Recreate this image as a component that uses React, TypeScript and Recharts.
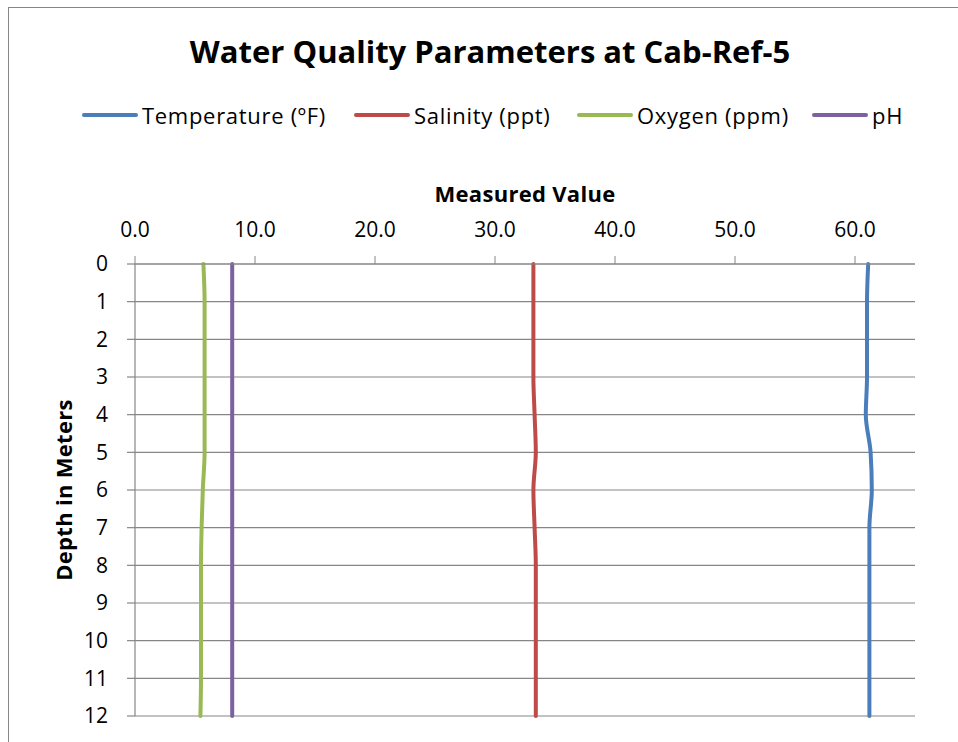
import { LineChart, Line, XAxis, YAxis, CartesianGrid } from 'recharts';

const depths = [0, 1, 2, 3, 4, 5, 6, 7, 8, 9, 10, 11, 12];
const temperature = [61.1, 61.0, 61.0, 61.0, 60.9, 61.3, 61.4, 61.2, 61.2, 61.2, 61.2, 61.2, 61.2];
const salinity = [33.2, 33.2, 33.2, 33.2, 33.3, 33.4, 33.2, 33.3, 33.4, 33.4, 33.4, 33.4, 33.4];
const oxygen = [5.7, 5.8, 5.8, 5.8, 5.8, 5.8, 5.65, 5.55, 5.5, 5.5, 5.5, 5.5, 5.45];
const ph = [8.1, 8.1, 8.1, 8.1, 8.1, 8.1, 8.1, 8.1, 8.1, 8.1, 8.1, 8.1, 8.1];
const xTicks = [0, 10, 20, 30, 40, 50, 60];

const series = [
  { key: 'temp', name: 'Temperature (ºF)', color: '#4A7EBB', left: 82 },
  { key: 'sal', name: 'Salinity (ppt)', color: '#BE4B48', left: 354 },
  { key: 'oxy', name: 'Oxygen (ppm)', color: '#98B954', left: 577 },
  { key: 'ph', name: 'pH', color: '#7D60A0', left: 812 },
];

const data = depths.map((d, i) => ({
  depth: d,
  temp: temperature[i],
  sal: salinity[i],
  oxy: oxygen[i],
  ph: ph[i],
}));

const font = '"Open Sans", Lato, sans-serif';
const grey = '#868686';

export default function App() {
  return (
    <div style={{ position: 'absolute', left: 0, top: 0, width: 958, height: 742, overflow: 'hidden', background: '#fff', fontFamily: font }}>
      <div style={{ position: 'absolute', left: 8, top: 7, width: 1000, height: 800, borderLeft: '1.5px solid ' + grey, borderTop: '1.5px solid ' + grey }} />

      <div style={{ position: 'absolute', left: 0, width: 980, top: 31, textAlign: 'center', fontSize: 31, fontWeight: 'bold', lineHeight: '40px' }}>
        Water Quality Parameters at Cab-Ref-5
      </div>

      {series.map((s) => (
        <div key={s.key} style={{ position: 'absolute', left: s.left, top: 100, display: 'flex', alignItems: 'center', fontSize: 22, lineHeight: '30px', letterSpacing: 0.7, whiteSpace: 'nowrap' }}>
          <div style={{ width: 56, height: 4, borderRadius: 2, background: s.color, marginRight: 4 }} />
          <span>{s.name}</span>
        </div>
      ))}

      <div style={{ position: 'absolute', left: 135, width: 780, top: 178, textAlign: 'center', fontSize: 22, fontWeight: 'bold', lineHeight: '30px', letterSpacing: 0.3 }}>
        Measured Value
      </div>

      <div style={{ position: 'absolute', left: 63, top: 490, transform: 'translate(-50%, -50%) rotate(-90deg)', whiteSpace: 'nowrap', fontSize: 22, fontWeight: 'bold', lineHeight: '30px', letterSpacing: 0.3 }}>
        Depth in Meters
      </div>

      <div style={{ position: 'absolute', left: 0, top: 0 }}>
        <LineChart
          width={958}
          height={742}
          data={data}
          layout="vertical"
          margin={{ top: 224, right: 43, bottom: 26, left: 75 }}
        >
          <CartesianGrid vertical={false} stroke={grey} strokeWidth={1.2} />
          <XAxis
            type="number"
            orientation="top"
            domain={[0, 65]}
            ticks={xTicks}
            tickFormatter={(v: number) => v.toFixed(1)}
            height={40}
            tickSize={8}
            tickMargin={19}
            stroke={grey}
            tick={{ fill: '#000', fontSize: 21, fontFamily: font }}
            axisLine={{ stroke: grey, strokeWidth: 1.2 }}
            tickLine={{ stroke: grey }}
          />
          <YAxis
            type="category"
            dataKey="depth"
            width={60}
            tickSize={8}
            tickMargin={19}
            interval={0}
            stroke={grey}
            tick={{ fill: '#000', fontSize: 21, fontFamily: font }}
            axisLine={{ stroke: grey, strokeWidth: 1.2 }}
            tickLine={{ stroke: grey, strokeWidth: 1.2 }}
          />
          {series.map((s) => (
            <Line
              key={s.key}
              dataKey={s.key}
              name={s.name}
              type="monotone"
              stroke={s.color}
              strokeWidth={4}
              strokeLinecap="round"
              dot={false}
              activeDot={false}
              isAnimationActive={false}
            />
          ))}
        </LineChart>
      </div>
    </div>
  );
}
